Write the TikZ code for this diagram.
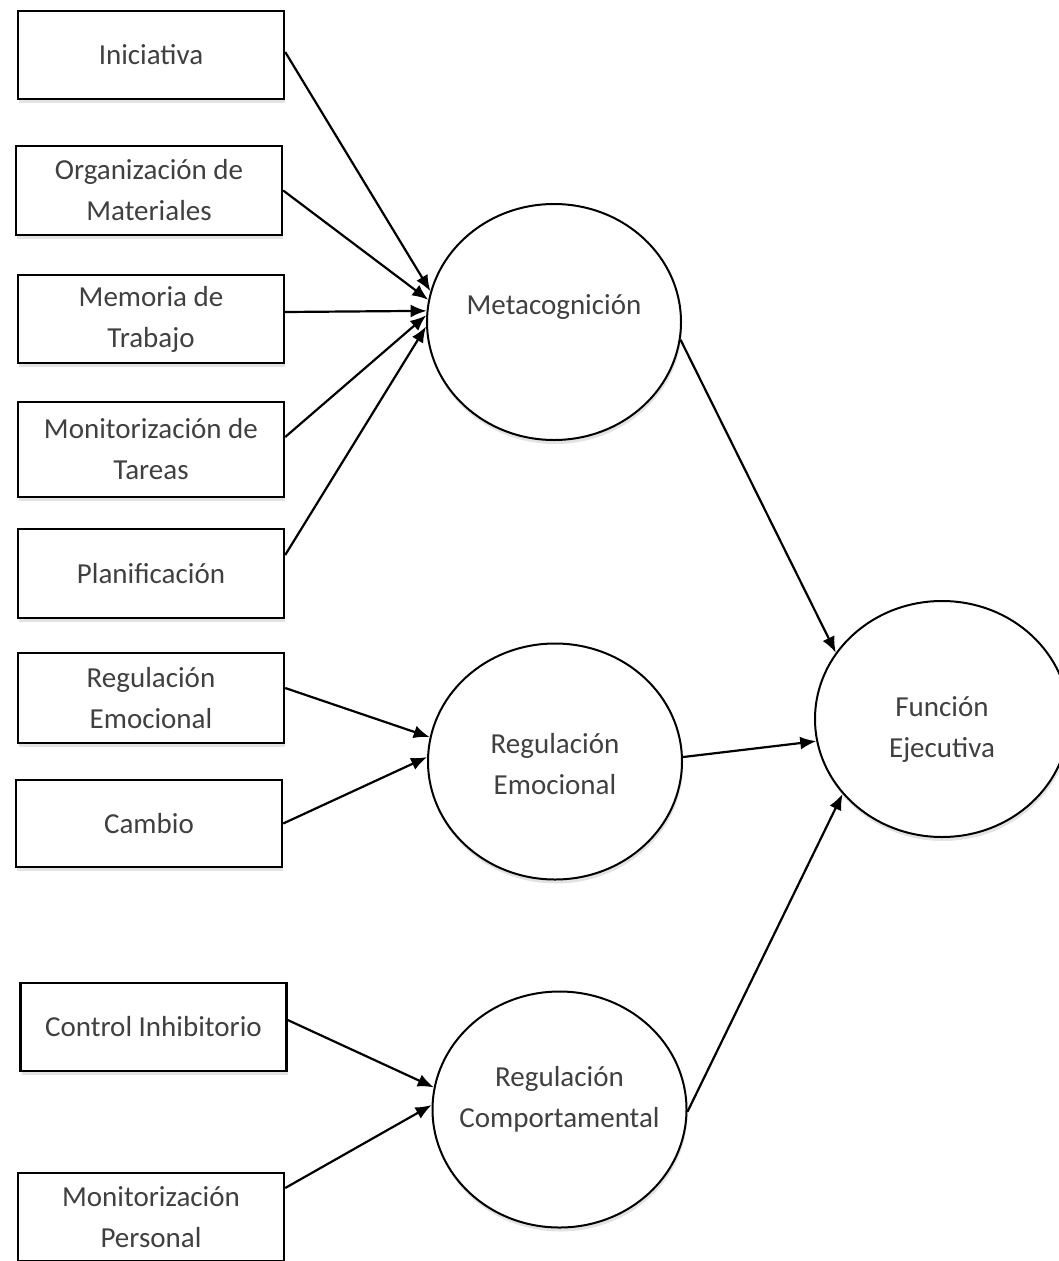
\documentclass[tikz,border=0pt]{standalone}
\usepackage{fontspec}
\setmainfont{Carlito}
\usetikzlibrary{arrows.meta,shapes.geometric,shadows}

\begin{document}
\begin{tikzpicture}[x=1pt,y=-1pt,>={Latex[length=16pt,width=13pt]},
	sombra/.style={drop shadow={shadow xshift=1pt,shadow yshift=-4pt,opacity=0.22}},
	texto/.style={align=center,text=black!75,font=\fontsize{29}{41}\selectfont},
	caja/.style={draw,fill=white,line width=2.4pt,minimum width=266pt,minimum height=88pt,
		inner sep=0pt,texto,sombra},
	factor/.style={draw,fill=white,ellipse,line width=2pt,minimum width=254pt,minimum height=236pt,
		inner sep=0pt,sombra},
	flecha/.style={->,line width=2.2pt}]
	\useasboundingbox (0,0) rectangle (1059,1261);
	% Escalas clinicas
	\node[caja] (ini) at (151,55) {Iniciativa};
	\node[caja,minimum height=89pt] (org) at (149,190.5) {Organización de\\Materiales};
	\node[caja] (mem) at (151,319) {Memoria de\\Trabajo};
	\node[caja,minimum height=95pt] (tar) at (151,449.5) {Monitorización de\\Tareas};
	\node[caja,minimum height=89pt] (pla) at (151,573.5) {Planificación};
	\node[caja,minimum height=90pt] (rem) at (151,698) {Regulación\\Emocional};
	\node[caja,minimum height=87pt] (cam) at (149,823.5) {Cambio};
	\node[caja] (inh) at (153.5,1027) {Control Inhibitorio};
	\node[caja] (mpe) at (151,1217) {Monitorización\\Personal};
	% Indices
	\node[factor] (meta) at (554,322) {};
	\node[factor] (emo) at (555,761.5) {};
	\node[factor] (comp) at (559.5,1109.5) {};
	\node[factor] (fe) at (942,719) {};
	\node[texto] (metatxt) at ([yshift=15pt]meta.center) {Metacognición};
	\node[texto] (emotxt) at ([yshift=-2.5pt]emo.center) {Regulación\\Emocional};
	\node[texto] (comptxt) at ([yshift=10pt]comp.center) {Regulación\\Comportamental};
	\node[texto] (fetxt) at ([yshift=-10pt]fe.center) {Función\\Ejecutiva};
	% Flechas
	\draw[flecha] ([yshift=3pt]ini.east) -- (meta.166);
	\draw[flecha] (org.east) -- (meta.170.4);
	\draw[flecha] ([yshift=7pt]mem.east) -- (meta.175.5);
	\draw[flecha] ([yshift=12.5pt]tar.east) -- (meta.177.8);
	\draw[flecha] ([yshift=18.5pt]pla.east) -- (meta.182.6);
	\draw[flecha] ([yshift=10pt]rem.east) -- (emo.169.5);
	\draw[flecha] (cam.east) -- (emo.178.4);
	\draw[flecha] ([yshift=7pt]inh.east) -- (comp.170);
	\draw[flecha] ([yshift=29pt]mpe.east) -- (comp.178.9);
	\draw[flecha] (meta.352) -- (fe.148.8);
	\draw[flecha] (emo.2) -- (fe.190);
	\draw[flecha] (comp.359) -- (fe.217.5);
\end{tikzpicture}
\end{document}
